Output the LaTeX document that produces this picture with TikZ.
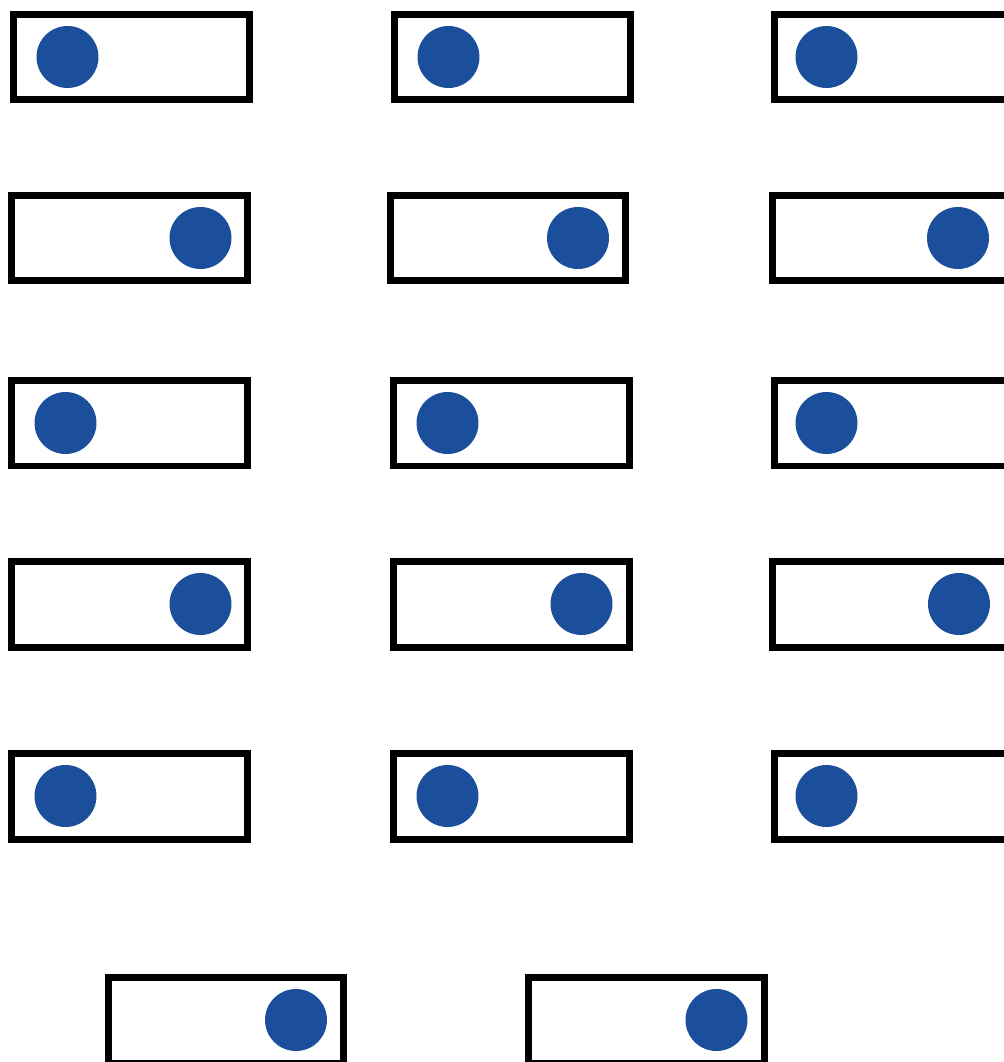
\documentclass[tikz,border=0pt]{standalone}
\usepackage{tikz}
\usetikzlibrary{calc}
\definecolor{knobc}{HTML}{1B4F9B}
\tikzset{
  swbox/.style={draw=black,line width=0.14cm,fill=white,minimum width=4.72cm,minimum height=1.72cm,inner sep=0pt},
  knob/.style={circle,fill=knobc,minimum size=1.24cm,inner sep=0pt},
}
\begin{document}
\begin{tikzpicture}[x=0.02cm,y=-0.02cm]
  \clip (0,0) rectangle (1004,1062);
  \fill[white] (0,0) rectangle (1004,1062);
  % rows of toggles: name / x / y / knob offset
  \foreach \n/\x/\y/\o in {
      r1a/131.5/57/-64, r1b/512.5/57/-64, r1c/892.5/57/-66,
      r2a/129.5/238/71, r2b/508/238/70, r2c/890/238/68,
      r3a/129.5/423/-64, r3b/511.5/423/-64, r3c/892.5/423/-66,
      r4a/129.5/604/71, r4b/511.5/604/70, r4c/890/604/69,
      r5a/129.5/796/-64, r5b/511.5/796/-64, r5c/892.5/796/-66,
      r6a/226/1020/70, r6b/646.5/1020/70} {
    \node[swbox] (sw-\n) at (\x,\y) {};
    \node[knob] (kn-\n) at ($(sw-\n.center)+(\o,0)$) {};
  }
\end{tikzpicture}
\end{document}
